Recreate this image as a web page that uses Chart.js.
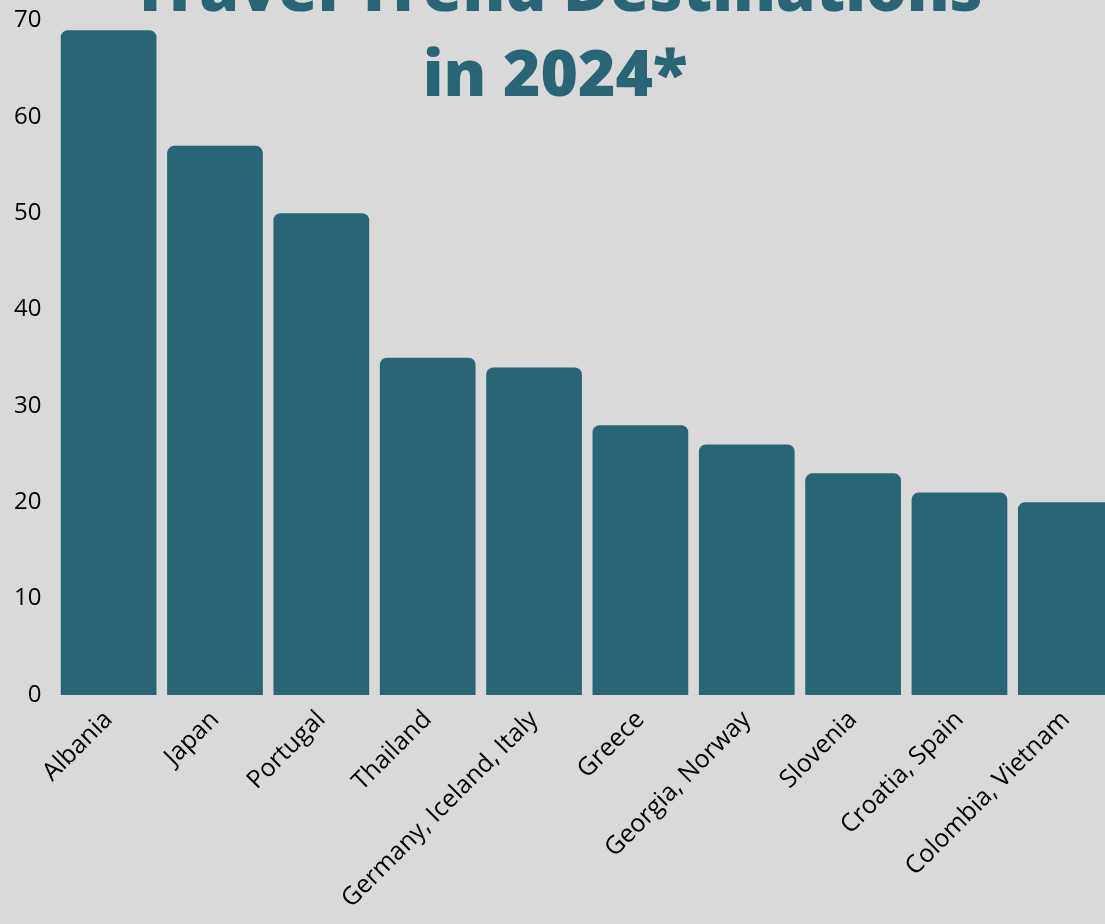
<!DOCTYPE html>
<html>
<head>
<meta charset="utf-8">
<script src="https://cdn.jsdelivr.net/npm/chart.js@4"></script>
<style>
  html, body { margin: 0; padding: 0; background: #d9d9d9; overflow: hidden; }
  #wrap { position: relative; width: 1119px; height: 924px; }
</style>
</head>
<body>
<div id="wrap"><canvas id="trendChart" width="1119" height="924"></canvas></div>
<script>
// Chart data
var destinations = ["Albania", "Japan", "Portugal", "Thailand", "Germany, Iceland, Italy",
    "Greece", "Georgia, Norway", "Slovenia", "Croatia, Spain", "Colombia, Vietnam"];
var trendScores = [69, 57, 50, 35, 34, 28, 26, 23, 21, 20];
var titleLines = ["Travel Trend Destinations", "in 2024*"];

var barColor = "#2a6477";

// Title drawn on top of the chart area (it overlaps the bars region in the original)
var titleOverlay = {
    id: "titleOverlay",
    afterDraw: function (chart) {
        var ctx = chart.ctx;
        ctx.save();
        ctx.fillStyle = barColor;
        ctx.font = "800 64px 'Open Sans'";
        ctx.textAlign = "center";
        ctx.textBaseline = "alphabetic";
        ctx.fillText(titleLines[0], 557, 11);
        ctx.fillText(titleLines[1], 555, 96);
        ctx.restore();
    }
};

var ctx = document.getElementById("trendChart").getContext("2d");
var chart = new Chart(ctx, {
    type: "bar",
    data: {
        labels: destinations,
        datasets: [{
            label: "Trend",
            data: trendScores,
            backgroundColor: barColor,
            borderRadius: { topLeft: 7, topRight: 7 },
            borderSkipped: "bottom",
            barPercentage: 0.9,
            categoryPercentage: 1.0
        }]
    },
    options: {
        responsive: false,
        animation: false,
        devicePixelRatio: 1,
        layout: { padding: { top: 0, left: 0, right: 0, bottom: 0 } },
        plugins: {
            legend: { display: false },
            tooltip: { enabled: false }
        },
        scales: {
            y: {
                min: 0,
                max: 70,
                border: { display: false },
                grid: { display: false, drawTicks: false },
                ticks: {
                    stepSize: 10,
                    padding: 14,
                    color: "#000",
                    font: { size: 24, family: "Open Sans", lineHeight: 0.55 }
                }
            },
            x: {
                border: { display: false },
                grid: { display: false, drawTicks: false },
                ticks: {
                    minRotation: 45,
                    maxRotation: 45,
                    padding: 10,
                    autoSkip: false,
                    color: "#000",
                    font: { size: 25, family: "Open Sans" }
                }
            }
        }
    },
    plugins: [titleOverlay]
});
</script>
</body>
</html>
